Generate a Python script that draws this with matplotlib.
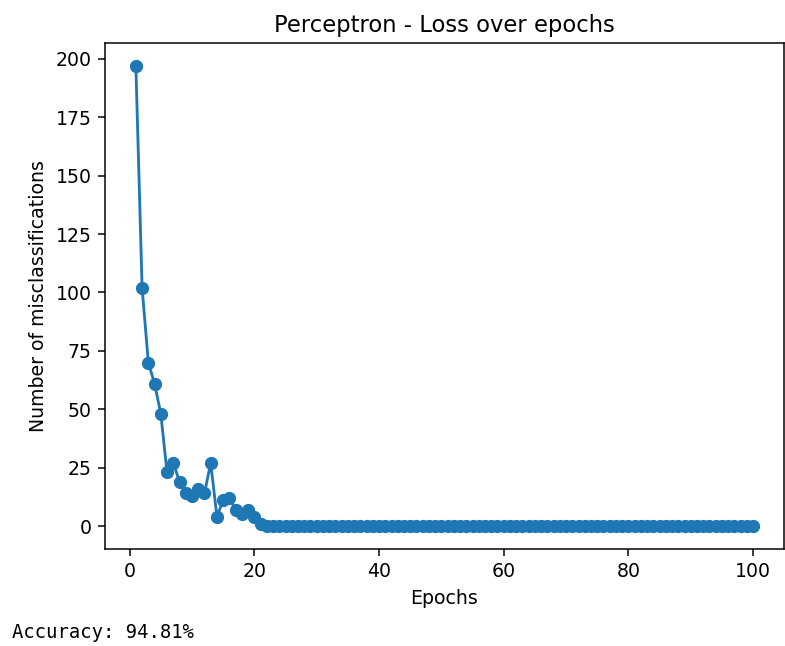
import matplotlib
matplotlib.use("Agg")
import matplotlib.pyplot as plt

epochs = list(range(1, 101))
early_losses = [197, 102, 70, 61, 48, 23, 27, 19, 14, 13, 16, 14, 27, 4, 11, 12, 7, 5, 7, 4, 1]
losses = early_losses + [0] * (100 - len(early_losses))

DPI = 136
fig = plt.figure(figsize=(785 / DPI, 646 / DPI), dpi=DPI)
W, H = 785, 646
ax = fig.add_axes([105 / W, (H - 549) / H, (784 - 105) / W, (549 - 43) / H])
ax.plot(epochs, losses, marker='o')
ax.set_title("Perceptron - Loss over epochs")
ax.set_xlabel("Epochs")
ax.set_ylabel("Number of misclassifications")

fig.text(12 / W, 1 - 633 / H, "Accuracy: 94.81%", family="monospace", fontsize=10, va="center")

fig.savefig("out.png", dpi=DPI)
